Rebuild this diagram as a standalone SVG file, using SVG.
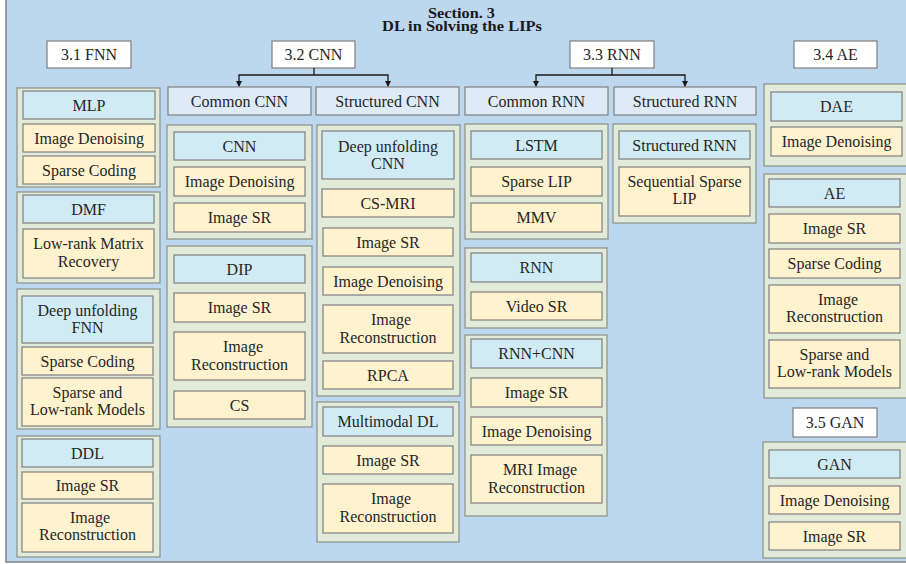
<svg xmlns="http://www.w3.org/2000/svg" width="906" height="564" viewBox="0 0 906 564">
<defs>
<style>
.bg{fill:#bdd7ee;stroke:#808080;stroke-width:1.5}
.grp{fill:#e2ebda;stroke:#8a8f88;stroke-width:1.2}
.blue{fill:#d1ebf5;stroke:#7f7f7f;stroke-width:1.2}
.sub{fill:#deeaf5;stroke:#7f7f7f;stroke-width:1.2}
.yel{fill:#fff3cf;stroke:#7f7f7f;stroke-width:1.2}
.sec{fill:#ffffff;stroke:#7f7f7f;stroke-width:1.2}
text{font-family:"Liberation Serif","Times New Roman",serif;font-size:16px;fill:#262626;text-anchor:middle}
.title{font-weight:bold;font-size:14px;fill:#1a1a1a}
.conn{fill:none;stroke:#1a1a1a;stroke-width:1.3}
</style>
<marker id="arr" markerWidth="6" markerHeight="6" refX="5" refY="3" orient="auto" markerUnits="userSpaceOnUse">
<path d="M0,0 L6,3 L0,6 Z" fill="#1a1a1a"/>
</marker>
</defs>

<rect class="bg" x="6" y="-2" width="910" height="564"/>

<g id="title">
<text class="title" x="461.5" y="17.5" textLength="67" lengthAdjust="spacingAndGlyphs">Section. 3</text>
<text class="title" x="462" y="31" textLength="160" lengthAdjust="spacingAndGlyphs">DL in Solving the LIPs</text>
</g>

<!-- Section boxes -->
<g id="sec-fnn"><rect class="sec" x="47" y="41" width="84" height="27"/><text x="89" y="60">3.1 FNN</text></g>
<g id="sec-cnn"><rect class="sec" x="272" y="41" width="83" height="27"/><text x="313.5" y="60">3.2 CNN</text></g>
<g id="sec-rnn"><rect class="sec" x="570" y="41" width="84" height="27"/><text x="612" y="60">3.3 RNN</text></g>
<g id="sec-ae"><rect class="sec" x="794" y="41" width="83" height="27"/><text x="835.5" y="60">3.4 AE</text></g>
<g id="sec-gan"><rect class="sec" x="793" y="408" width="84" height="29"/><text x="835" y="428">3.5 GAN</text></g>

<!-- Subheaders -->
<g id="sub-common-cnn"><rect class="sub" x="168" y="87" width="143" height="28"/><text x="239.5" y="106.5">Common CNN</text></g>
<g id="sub-structured-cnn"><rect class="sub" x="316" y="87" width="143" height="28"/><text x="387.5" y="106.5">Structured CNN</text></g>
<g id="sub-common-rnn"><rect class="sub" x="465" y="87" width="143" height="28"/><text x="536.5" y="106.5">Common RNN</text></g>
<g id="sub-structured-rnn"><rect class="sub" x="614" y="87" width="142" height="28"/><text x="685" y="106.5">Structured RNN</text></g>

<!-- Connectors -->
<g id="connectors">
<path class="conn" d="M314,68 V75"/>
<path class="conn" d="M314,75 H239 V86" marker-end="url(#arr)"/>
<path class="conn" d="M314,75 H388 V86" marker-end="url(#arr)"/>
<path class="conn" d="M612,68 V75"/>
<path class="conn" d="M612,75 H536 V86" marker-end="url(#arr)"/>
<path class="conn" d="M612,75 H685 V86" marker-end="url(#arr)"/>
</g>

<!-- FNN column -->
<g id="grp-mlp">
<rect class="grp" x="17" y="88" width="143" height="99"/>
<rect class="blue" x="23" y="91" width="132" height="28"/><text x="89" y="110.5">MLP</text>
<rect class="yel" x="23" y="124" width="132" height="28"/><text x="89" y="143.5">Image Denoising</text>
<rect class="yel" x="23" y="156" width="132" height="28"/><text x="89" y="175.5">Sparse Coding</text>
</g>
<g id="grp-dmf">
<rect class="grp" x="17" y="192" width="143" height="91"/>
<rect class="blue" x="23" y="195" width="131" height="28"/><text x="88.5" y="214.5">DMF</text>
<rect class="yel" x="23" y="229" width="131" height="49"/><text x="88.5" y="248.5">Low-rank Matrix</text><text x="88.5" y="267">Recovery</text>
</g>
<g id="grp-dufnn">
<rect class="grp" x="17" y="289" width="143" height="140"/>
<rect class="blue" x="22" y="296" width="131" height="47"/><text x="87.5" y="315.5">Deep unfolding</text><text x="87.5" y="333">FNN</text>
<rect class="yel" x="22" y="347" width="131" height="28"/><text x="87.5" y="366.5">Sparse Coding</text>
<rect class="yel" x="22" y="378" width="131" height="48"/><text x="87.5" y="397.5">Sparse and</text><text x="87.5" y="415">Low-rank Models</text>
</g>
<g id="grp-ddl">
<rect class="grp" x="17" y="436" width="143" height="121"/>
<rect class="blue" x="22" y="439" width="131" height="28"/><text x="87.5" y="458.5">DDL</text>
<rect class="yel" x="22" y="472" width="131" height="27"/><text x="87.5" y="491">Image SR</text>
<rect class="yel" x="22" y="503" width="131" height="49"/><text x="90" y="522.5">Image</text><text x="87.5" y="540">Reconstruction</text>
</g>

<!-- Common CNN column -->
<g id="grp-cnn">
<rect class="grp" x="167" y="125" width="145" height="114"/>
<rect class="blue" x="174" y="132" width="131" height="28"/><text x="239.5" y="151.5">CNN</text>
<rect class="yel" x="174" y="167" width="131" height="29"/><text x="239.5" y="187">Image Denoising</text>
<rect class="yel" x="174" y="203" width="131" height="29"/><text x="239.5" y="223">Image SR</text>
</g>
<g id="grp-dip">
<rect class="grp" x="167" y="246" width="145" height="181"/>
<rect class="blue" x="174" y="255" width="131" height="28"/><text x="239.5" y="274.5">DIP</text>
<rect class="yel" x="174" y="293" width="131" height="29"/><text x="239.5" y="313">Image SR</text>
<rect class="yel" x="174" y="332" width="131" height="48"/><text x="243" y="352">Image</text><text x="239.5" y="369.5">Reconstruction</text>
<rect class="yel" x="174" y="391" width="131" height="28"/><text x="239.5" y="410.5">CS</text>
</g>

<!-- Structured CNN column -->
<g id="grp-ducnn">
<rect class="grp" x="317" y="125" width="143" height="271"/>
<rect class="blue" x="322" y="131" width="132" height="48"/><text x="388" y="151.5">Deep unfolding</text><text x="388" y="168.5">CNN</text>
<rect class="yel" x="322" y="189" width="132" height="28"/><text x="388" y="208.5">CS-MRI</text>
<rect class="yel" x="323" y="228" width="130" height="28"/><text x="388" y="247.5">Image SR</text>
<rect class="yel" x="323" y="267" width="130" height="28"/><text x="388" y="286.5">Image Denoising</text>
<rect class="yel" x="323" y="305" width="130" height="48"/><text x="391" y="325">Image</text><text x="388" y="342.5">Reconstruction</text>
<rect class="yel" x="323" y="361" width="130" height="28"/><text x="388" y="380.5">RPCA</text>
</g>
<g id="grp-multimodal">
<rect class="grp" x="317" y="402" width="142" height="140"/>
<rect class="blue" x="323" y="407" width="130" height="29"/><text x="388" y="427">Multimodal DL</text>
<rect class="yel" x="323" y="446" width="130" height="28"/><text x="388" y="465.5">Image SR</text>
<rect class="yel" x="323" y="484" width="130" height="49"/><text x="391" y="504">Image</text><text x="388" y="521.5">Reconstruction</text>
</g>

<!-- Common RNN column -->
<g id="grp-lstm">
<rect class="grp" x="465" y="124" width="143" height="115"/>
<rect class="blue" x="471" y="131" width="131" height="28"/><text x="536.5" y="150.5">LSTM</text>
<rect class="yel" x="471" y="167" width="131" height="29"/><text x="536.5" y="187">Sparse LIP</text>
<rect class="yel" x="471" y="203" width="131" height="29"/><text x="536.5" y="223">MMV</text>
</g>
<g id="grp-rnn">
<rect class="grp" x="465" y="248" width="142" height="80"/>
<rect class="blue" x="471" y="253" width="131" height="29"/><text x="536.5" y="273">RNN</text>
<rect class="yel" x="471" y="292" width="131" height="28"/><text x="536.5" y="311.5">Video SR</text>
</g>
<g id="grp-rnncnn">
<rect class="grp" x="465" y="335" width="142" height="181"/>
<rect class="blue" x="471" y="339" width="131" height="29"/><text x="536.5" y="359">RNN+CNN</text>
<rect class="yel" x="471" y="378" width="131" height="29"/><text x="536.5" y="398">Image SR</text>
<rect class="yel" x="471" y="417" width="131" height="28"/><text x="536.5" y="436.5">Image Denoising</text>
<rect class="yel" x="471" y="455" width="131" height="48"/><text x="540" y="475">MRI Image</text><text x="536.5" y="492.5">Reconstruction</text>
</g>

<!-- Structured RNN column -->
<g id="grp-srnn">
<rect class="grp" x="613" y="124" width="143" height="99"/>
<rect class="blue" x="619" y="131" width="131" height="28"/><text x="684.5" y="150.5">Structured RNN</text>
<rect class="yel" x="619" y="167" width="131" height="49"/><text x="684.5" y="186.5">Sequential Sparse</text><text x="684.5" y="204">LIP</text>
</g>

<!-- AE column -->
<g id="grp-dae">
<rect class="grp" x="764" y="84" width="144" height="82"/>
<rect class="blue" x="771" y="92" width="131" height="29"/><text x="836.5" y="112">DAE</text>
<rect class="yel" x="771" y="127" width="131" height="29"/><text x="836.5" y="147">Image Denoising</text>
</g>
<g id="grp-ae">
<rect class="grp" x="764" y="174" width="144" height="224"/>
<rect class="blue" x="769" y="179" width="131" height="28"/><text x="834.5" y="198.5">AE</text>
<rect class="yel" x="769" y="214" width="131" height="29"/><text x="834.5" y="234">Image SR</text>
<rect class="yel" x="769" y="249" width="131" height="29"/><text x="834.5" y="269">Sparse Coding</text>
<rect class="yel" x="769" y="285" width="131" height="48"/><text x="838" y="304.5">Image</text><text x="834.5" y="322">Reconstruction</text>
<rect class="yel" x="769" y="340" width="131" height="48"/><text x="834.5" y="359.5">Sparse and</text><text x="834.5" y="377">Low-rank Models</text>
</g>
<g id="grp-gan">
<rect class="grp" x="763" y="442" width="145" height="116"/>
<rect class="blue" x="769" y="450" width="131" height="28"/><text x="834.5" y="469.5">GAN</text>
<rect class="yel" x="769" y="486" width="131" height="28"/><text x="834.5" y="505.5">Image Denoising</text>
<rect class="yel" x="769" y="522" width="131" height="28"/><text x="834.5" y="541.5">Image SR</text>
</g>
</svg>
